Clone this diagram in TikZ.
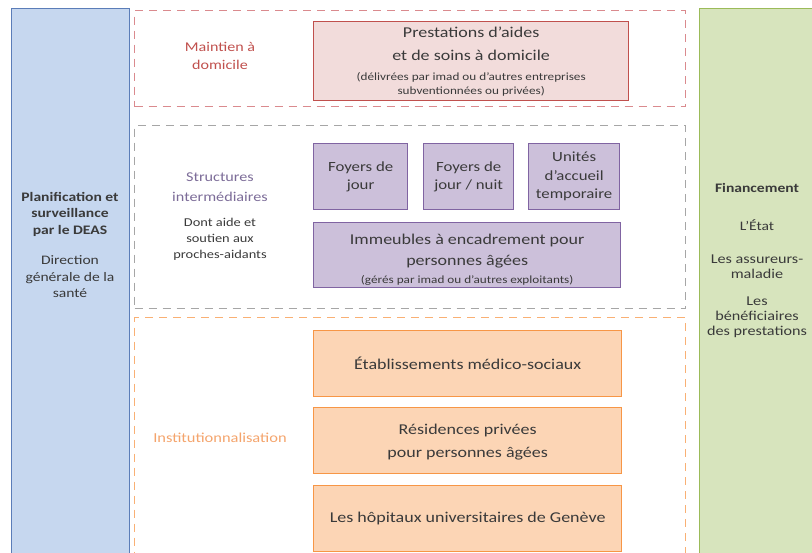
\documentclass[tikz,border=0pt]{standalone}
\usepackage{fontspec}
\setmainfont[FakeStretch=1.2]{Carlito}
\definecolor{bluefill}{HTML}{C6D7EF}
\definecolor{blueline}{HTML}{5B7DB8}
\definecolor{greenfill}{HTML}{D7E4BD}
\definecolor{greenline}{HTML}{9BBB59}
\definecolor{redfill}{HTML}{F2DCDB}
\definecolor{redline}{HTML}{C0504D}
\definecolor{reddash}{HTML}{DA8A8E}
\definecolor{purpfill}{HTML}{CCC0DA}
\definecolor{purpline}{HTML}{8064A2}
\definecolor{purptext}{HTML}{7C6C98}
\definecolor{graydash}{HTML}{A6A6A6}
\definecolor{orfill}{HTML}{FCD5B5}
\definecolor{orline}{HTML}{F79646}
\definecolor{ortext}{HTML}{F4A46C}
\definecolor{txt}{HTML}{3A3A3A}
\newcommand{\smalltxt}{\fontsize{11}{14}\selectfont}
\tikzset{
  x=1pt,y=-1pt,
  region/.style={draw, dash pattern=on 8pt off 6pt, line width=1.2pt, anchor=north west, inner sep=0pt},
  sidebox/.style={draw, line width=1.4pt, anchor=north west, inner sep=0pt},
  itembox/.style={draw, line width=1.3pt, anchor=north west, align=center, inner sep=1pt, text=txt, font=\fontsize{15}{23}\selectfont},
  smallbox/.style={itembox, minimum width=91pt, minimum height=66pt, font=\fontsize{14}{18.5}\selectfont},
  lbl/.style={align=center, text=txt, font=\fontsize{13}{16.5}\selectfont},
}
\begin{document}
\begin{tikzpicture}
\useasboundingbox (0,0) rectangle (812,553);
% side boxes
\node[sidebox, draw=blueline, fill=bluefill, minimum width=118pt, minimum height=560pt] (plan) at (11,8) {};
\node[sidebox, draw=greenline, fill=greenfill, minimum width=130pt, minimum height=560pt] (fin) at (699,8) {};
% regions
\node[region, draw=reddash, minimum width=551pt, minimum height=96pt] (maint) at (134,10) {};
\node[region, draw=graydash, minimum width=551pt, minimum height=183pt] (struct) at (134,125) {};
\node[region, draw=orline!75, minimum width=551pt, minimum height=260pt] (inst) at (134,317) {};
% red box
\node[itembox, draw=redline, fill=redfill, minimum width=315pt, minimum height=79pt] (prest) at (313,21)
  {Prestations d’aides\\et de soins à domicile\\[-3pt]\smalltxt (délivrées par imad ou d’autres entreprises\\[-9pt]\smalltxt subventionnées ou privées)};
% purple boxes
\node[smallbox, draw=purpline, fill=purpfill, minimum width=94pt] (fj) at (313,143) {Foyers de\\jour};
\node[smallbox, draw=purpline, fill=purpfill, minimum width=90pt] (fjn) at (423,143) {Foyers de\\jour / nuit};
\node[smallbox, draw=purpline, fill=purpfill, minimum width=91pt] (uat) at (528,143) {Unités\\d’accueil\\temporaire};
\node[itembox, draw=purpline, fill=purpfill, minimum width=307pt, minimum height=65pt, font=\fontsize{15}{21}\selectfont] (imm) at (313,222)
  {\rule{0pt}{19pt}Immeubles à encadrement pour\\personnes âgées\\[-3pt]\smalltxt (gérés par imad ou d’autres exploitants)};
% orange boxes
\node[itembox, draw=orline, fill=orfill, minimum width=308pt, minimum height=66pt] (ems) at (313,330) {Établissements médico-sociaux};
\node[itembox, draw=orline, fill=orfill, minimum width=308pt, minimum height=66pt] (res) at (313,407) {\rule{0pt}{14pt}Résidences privées\\pour personnes âgées};
\node[itembox, draw=orline, fill=orfill, minimum width=308pt, minimum height=66pt] (hug) at (313,485) {Les hôpitaux universitaires de Genève};
% region labels
\node[lbl, text=redline, font=\fontsize{13.4}{18}\selectfont] (lmaint) at (220,56) {Maintien à\\domicile};
\node[lbl, text=purptext, font=\fontsize{13.5}{20}\selectfont] (lstruct) at (220,187) {Structures\\intermédiaires};
\node[lbl, font=\fontsize{12}{16}\selectfont] (lsout) at (220,239) {Dont aide et\\soutien aux\\proches-aidants};
\node[lbl, text=ortext, font=\fontsize{13.7}{18}\selectfont] (linst) at (220,438) {Institutionnalisation};
% side labels
\node[lbl, font=\bfseries\fontsize{13}{16.5}\selectfont] (lplan) at (70,214) {Planification et\\surveillance\\par le DEAS};
\node[lbl] (ldir) at (70,277) {Direction\\générale de la\\santé};
\node[lbl, font=\bfseries\fontsize{13}{15}\selectfont] (lfin) at (757,188) {Financement};
\node[lbl, font=\fontsize{13}{15}\selectfont] (letat) at (757,225) {L’État};
\node[lbl, font=\fontsize{13.5}{15}\selectfont] (lass) at (757,267) {Les assureurs-\\maladie};
\node[lbl, font=\fontsize{13.5}{15}\selectfont] (lben) at (757,317) {Les\\bénéficiaires\\des prestations};
\end{tikzpicture}
\end{document}
